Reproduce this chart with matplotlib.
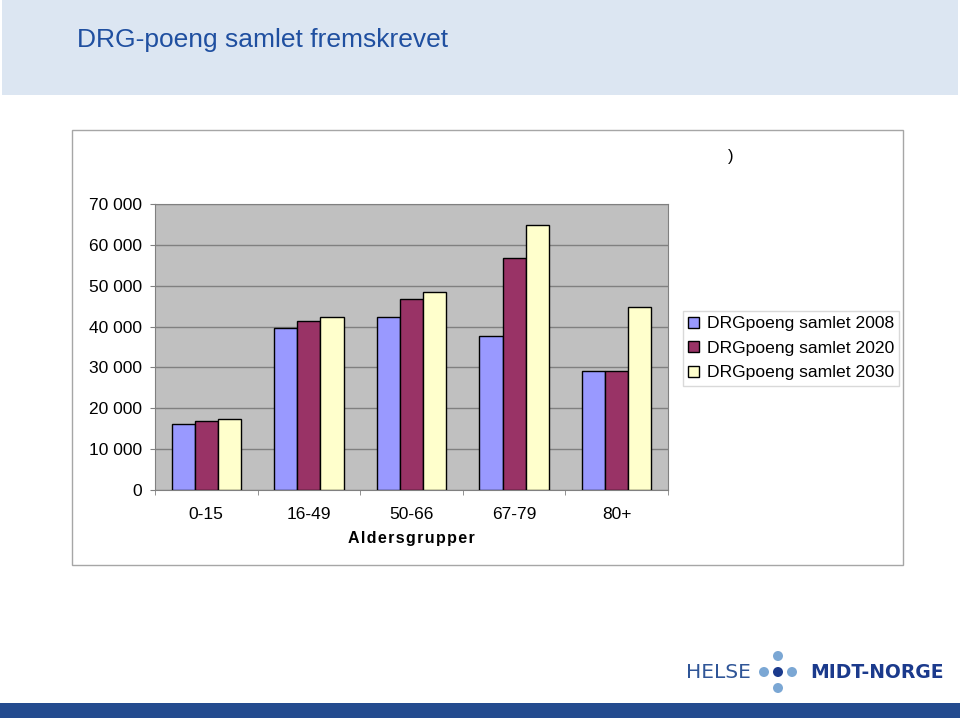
import matplotlib.pyplot as plt
import numpy as np
from matplotlib.patches import Rectangle, Ellipse

plt.rcParams['font.family'] = ['Liberation Sans', 'DejaVu Sans']

groups = ["0-15", "16-49", "50-66", "67-79", "80+"]
series_names = ["DRGpoeng samlet 2008", "DRGpoeng samlet 2020", "DRGpoeng samlet 2030"]
drg_2008 = [16200, 39600, 42400, 37700, 29200]
drg_2020 = [16800, 41300, 46700, 56700, 29200]
drg_2030 = [17500, 42400, 48500, 64800, 44900]
colors = ["#9999FF", "#993366", "#FFFFCC"]

W, H = 960, 718
fig = plt.figure(figsize=(W / 100, H / 100), dpi=100)
fig.patch.set_facecolor("white")


def fx(px):
    return px / W


def fy(py):
    return 1 - py / H


# title band and bottom bar
fig.patches.append(Rectangle((fx(2), fy(95)), fx(956), 95 / H, transform=fig.transFigure,
                             facecolor="#DCE6F2", edgecolor="none", zorder=0))
fig.text(fx(77), fy(40), "DRG-poeng samlet fremskrevet", fontsize=19, color="#1F4FA0",
         va="center", ha="left")
fig.patches.append(Rectangle((0, 0), 1, 15 / H, transform=fig.transFigure,
                             facecolor="#244B8F", edgecolor="none", zorder=0))

# chart frame
fig.patches.append(Rectangle((fx(72), fy(565)), fx(903 - 72), (565 - 130) / H,
                             transform=fig.transFigure, facecolor="white",
                             edgecolor="#A6A6A6", linewidth=1, zorder=0))
fig.text(fx(728), fy(157), ")", fontsize=12, va="center", ha="left")

ax = fig.add_axes([fx(155), fy(490), fx(668 - 155), (490 - 204) / H])
ax.set_zorder(3)
ax.set_facecolor("#C0C0C0")

x = np.arange(len(groups))
w = 0.225
for i, (vals, c, name) in enumerate(zip([drg_2008, drg_2020, drg_2030], colors, series_names)):
    ax.bar(x + (i - 1) * w, vals, w, color=c, edgecolor="black", linewidth=1, label=name, zorder=3)

ax.set_xlim(-0.5, len(groups) - 0.5)
ax.set_ylim(0, 70000)
yt = np.arange(0, 70001, 10000)
ax.set_yticks(yt)
ax.set_yticklabels([f"{v:,}".replace(",", " ") for v in yt], fontsize=12.5)
ax.yaxis.grid(True, color="#808080", linewidth=1)
ax.set_axisbelow(True)
ax.set_xticks(x)
ax.set_xticklabels(groups, fontsize=12.5)
ax.set_xticks(np.arange(-0.5, len(groups)), minor=True)
ax.tick_params(axis="x", which="major", length=0, pad=12)
ax.tick_params(axis="x", which="minor", length=3.6, color="#808080")
ax.tick_params(axis="y", length=3.6, color="#808080", pad=5.5)
for s in ax.spines.values():
    s.set_color("#808080")
ax.set_xlabel("A l d e r s g r u p p e r".replace(" ", "\u200a"), fontsize=11.5,
              fontweight="bold", labelpad=7)

leg = fig.legend(loc="upper left", bbox_to_anchor=(fx(683), fy(311)), fontsize=12.6,
                 frameon=True, fancybox=False, edgecolor="#D0D0D0", handlelength=0.6,
                 handleheight=0.6, handletextpad=0.45, borderpad=0.3, labelspacing=0.55,
                 borderaxespad=0)
leg.get_frame().set_linewidth(1)

# logo
fig.text(fx(686), fy(672), "HELSE", fontsize=14.5, color="#2F5597", va="center", ha="left",
         family="DejaVu Sans")
dots = [(764, 672, "#7BA7D4"), (778, 672, "#1B3A8C"), (792, 672, "#7BA7D4"),
        (778, 656, "#7BA7D4"), (778, 688, "#7BA7D4")]
for cx, cy, c in dots:
    fig.patches.append(Ellipse((fx(cx), fy(cy)), 10 / W, 10 / H, transform=fig.transFigure,
                               facecolor=c, edgecolor="none"))
fig.text(fx(810), fy(672), "MIDT-NORGE", fontsize=13.5, color="#1B3A8C", fontweight="bold",
         va="center", ha="left", family="DejaVu Sans")

fig.savefig("out.png", dpi=100)
